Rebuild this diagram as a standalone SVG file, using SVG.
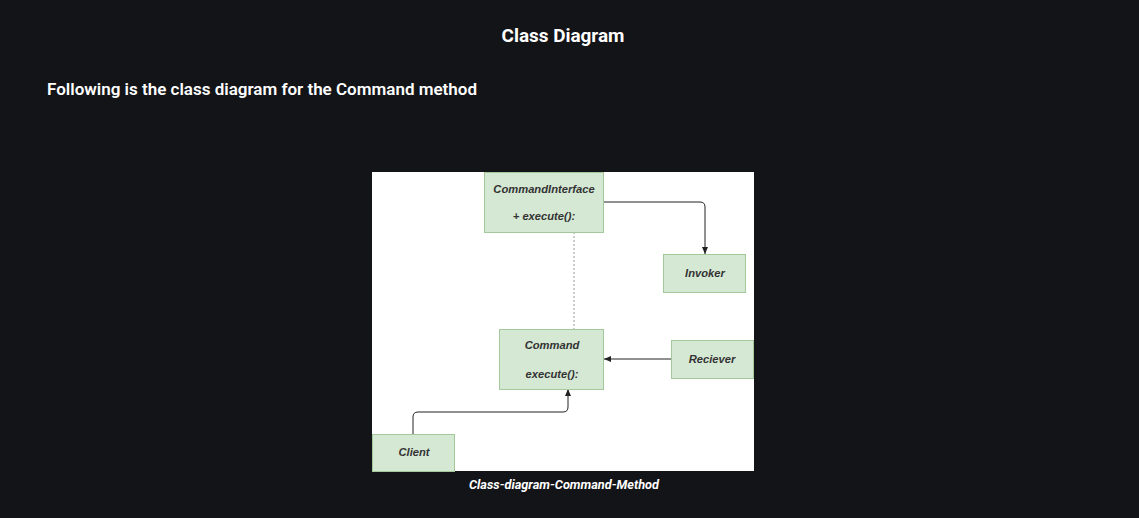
<svg xmlns="http://www.w3.org/2000/svg" width="1139" height="518" viewBox="0 0 1139 518">
<defs>
<style>
.bg{fill:#131417}
.node rect{fill:#d5e8d4;stroke:#a3c99a;stroke-width:1}
.node text{font-family:"Liberation Sans",Arial,sans-serif;font-size:11.2px;font-weight:bold;font-style:italic;fill:#333;text-anchor:middle}
.conn path{fill:none;stroke:#222;stroke-width:1}
.head{font-family:Roboto,"Noto Sans",sans-serif;fill:#fff;font-weight:bold}
</style>
<marker id="arr" markerWidth="8" markerHeight="8" refX="7" refY="4" orient="auto" markerUnits="userSpaceOnUse">
<path d="M0,1 L7,4 L0,7 Z" fill="#222"/>
</marker>
</defs>
<rect class="bg" x="0" y="0" width="1139" height="518"/>
<text class="head" x="563" y="42" font-size="18" text-anchor="middle" textLength="123" lengthAdjust="spacingAndGlyphs">Class Diagram</text>
<text class="head" x="47" y="95" font-size="16" textLength="430" lengthAdjust="spacingAndGlyphs" style="font-weight:600">Following is the class diagram for the Command method</text>
<rect x="372" y="172" width="382" height="299" fill="#ffffff"/>
<g class="conn">
<path d="M574,232 L574,329" stroke-dasharray="2,2" style="stroke:#999"/>
<path d="M604,202 L700,202 Q705,202 705,207 L705,254" marker-end="url(#arr)"/>
<path d="M671,359 L604,359" marker-end="url(#arr)"/>
<path d="M413,434 L413,417 Q413,412 418,412 L563,412 Q568,412 568,407 L568,389" marker-end="url(#arr)"/>
</g>
<g id="commandinterface" class="node">
<rect x="484.5" y="172.5" width="119" height="60"/>
<text x="544" y="193">CommandInterface</text>
<text x="544" y="220">+ execute():</text>
</g>
<g id="invoker" class="node">
<rect x="663.5" y="254.5" width="82" height="38"/>
<text x="705" y="277">Invoker</text>
</g>
<g id="command" class="node">
<rect x="499.5" y="329.5" width="104" height="60"/>
<text x="552" y="349">Command</text>
<text x="552" y="378">execute():</text>
</g>
<g id="reciever" class="node">
<rect x="671.5" y="340.5" width="82" height="38"/>
<text x="712" y="363">Reciever</text>
</g>
<g id="client" class="node">
<rect x="372.5" y="434.5" width="82" height="37"/>
<text x="414" y="456">Client</text>
</g>
<text class="head" x="564" y="489" font-size="12" font-style="italic" text-anchor="middle" textLength="190" lengthAdjust="spacingAndGlyphs">Class-diagram-Command-Method</text>
</svg>
